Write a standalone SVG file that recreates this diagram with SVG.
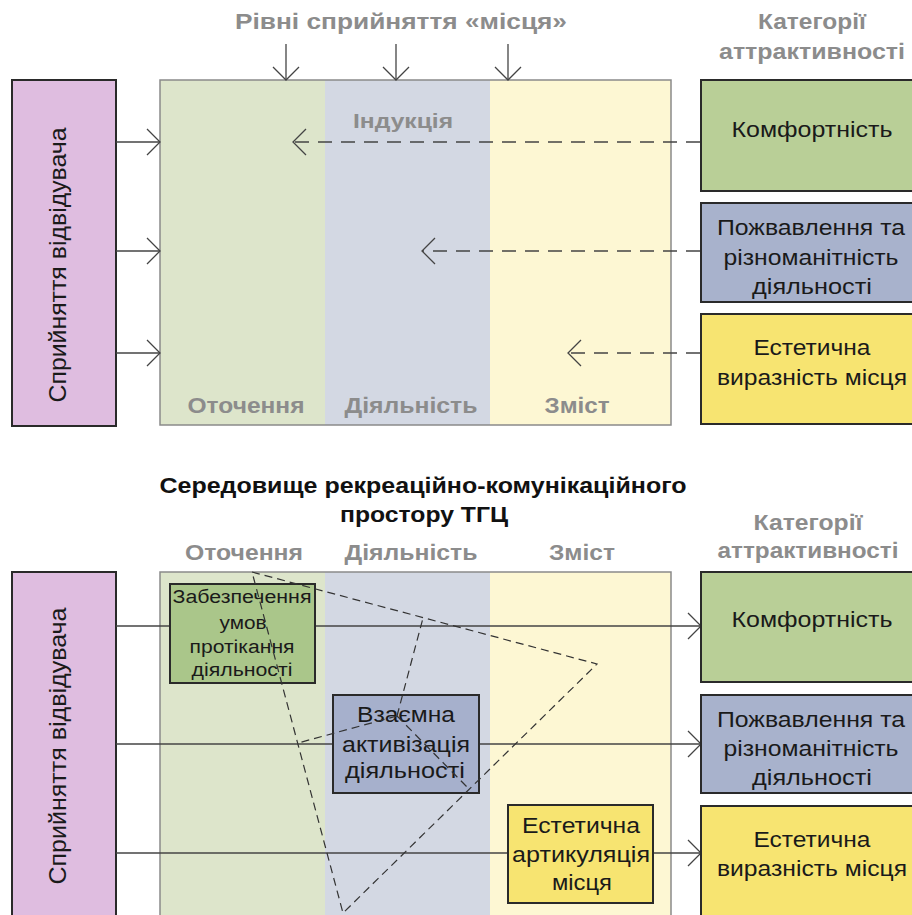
<svg xmlns="http://www.w3.org/2000/svg" width="912" height="915" viewBox="0 0 912 915">
<style>
text{font-family:"Liberation Sans",Arial,sans-serif;text-anchor:middle}
.hdr{font-weight:bold;fill:#8c8c8c;font-size:22px}
.ttl{font-weight:bold;fill:#111;font-size:22px}
.lbl{fill:#1a1a1a;font-size:22px}
.sm{font-size:18px}
.md{font-size:22px}
.box{stroke:#2a2a2a;stroke-width:2}
.frame{fill:none;stroke:#8a8a8a;stroke-width:1.5}
.conn{stroke:#444;stroke-width:1.3;fill:none}
.dash{stroke-dasharray:14 9}
.tri{stroke:#333;stroke-width:1.2;stroke-dasharray:8 5;fill:none}
</style>
<defs>
<marker id="chev" markerUnits="userSpaceOnUse" markerWidth="16" markerHeight="30" refX="14" refY="14" orient="auto" viewBox="0 0 16 30">
<path d="M1,1 L14,14 L1,27" fill="none" stroke="#444" stroke-width="1.3" stroke-dasharray="none"/>
</marker>
</defs>
<rect width="912" height="915" fill="#fff"/>

<!-- top section -->
<g id="top-frame">
<rect x="160" y="80" width="165" height="345" fill="#dde5cb"/>
<rect x="325" y="80" width="165" height="345" fill="#d3d8e3"/>
<rect x="490" y="80" width="181" height="345" fill="#fdf7d3"/>
<rect class="frame" x="160" y="80" width="511" height="345"/>
<text class="hdr" x="403" y="128" style="font-size:20px" textLength="100" lengthAdjust="spacingAndGlyphs">Індукція</text>
<text class="hdr" x="246" y="413" textLength="117" lengthAdjust="spacingAndGlyphs">Оточення</text>
<text class="hdr" x="411" y="413" textLength="133" lengthAdjust="spacingAndGlyphs">Діяльність</text>
<text class="hdr" x="577" y="413" textLength="65" lengthAdjust="spacingAndGlyphs">Зміст</text>
</g>
<g id="top-headers">
<text class="hdr" x="401" y="29" textLength="332" lengthAdjust="spacingAndGlyphs">Рівні сприйняття «місця»</text>
<text class="hdr" x="812" y="29" textLength="108" lengthAdjust="spacingAndGlyphs">Категорії</text>
<text class="hdr" x="812" y="59" textLength="186" lengthAdjust="spacingAndGlyphs">аттрактивності</text>
</g>
<g id="top-visitor">
<rect class="box" x="12" y="80" width="104" height="346" fill="#dfbde0"/>
<text class="lbl" style="font-size:23px" transform="translate(66,265) rotate(-90)" textLength="275" lengthAdjust="spacingAndGlyphs">Сприйняття відвідувача</text>
</g>
<g id="top-comfort">
<rect class="box" x="701" y="80" width="215" height="111" fill="#b9cf97"/>
<text class="lbl" x="812" y="137" textLength="161" lengthAdjust="spacingAndGlyphs">Комфортність</text>
</g>
<g id="top-activity">
<rect class="box" x="701" y="203" width="215" height="99" fill="#a8b2cc"/>
<text class="lbl" x="811" y="235" textLength="188" lengthAdjust="spacingAndGlyphs">Пожвавлення та</text>
<text class="lbl" x="811" y="265" textLength="175" lengthAdjust="spacingAndGlyphs">різноманітність</text>
<text class="lbl" x="812" y="294" textLength="120" lengthAdjust="spacingAndGlyphs">діяльності</text>
</g>
<g id="top-aesthetic">
<rect class="box" x="701" y="314" width="215" height="110" fill="#f7e471"/>
<text class="lbl" x="812" y="355" textLength="117" lengthAdjust="spacingAndGlyphs">Естетична</text>
<text class="lbl" x="812" y="385" textLength="190" lengthAdjust="spacingAndGlyphs">виразність місця</text>
</g>
<g id="top-connectors">
<line class="conn" x1="286" y1="44" x2="286" y2="80" marker-end="url(#chev)"/>
<line class="conn" x1="396" y1="44" x2="396" y2="80" marker-end="url(#chev)"/>
<line class="conn" x1="508" y1="44" x2="508" y2="80" marker-end="url(#chev)"/>
<line class="conn" x1="116" y1="142" x2="160" y2="142" marker-end="url(#chev)"/>
<line class="conn" x1="116" y1="251" x2="160" y2="251" marker-end="url(#chev)"/>
<line class="conn" x1="116" y1="353" x2="160" y2="353" marker-end="url(#chev)"/>
<line class="conn dash" x1="700" y1="142" x2="293" y2="142" marker-end="url(#chev)"/>
<line class="conn dash" x1="700" y1="251" x2="422" y2="251" marker-end="url(#chev)"/>
<line class="conn dash" x1="700" y1="353" x2="568" y2="353" marker-end="url(#chev)"/>
</g>

<!-- bottom section -->
<g id="bottom-headers">
<text class="ttl" x="423" y="493" textLength="527" lengthAdjust="spacingAndGlyphs">Середовище рекреаційно-комунікаційного</text>
<text class="ttl" x="424" y="522" textLength="168" lengthAdjust="spacingAndGlyphs">простору ТГЦ</text>
<text class="hdr" x="244" y="560" textLength="118" lengthAdjust="spacingAndGlyphs">Оточення</text>
<text class="hdr" x="411" y="560" textLength="133" lengthAdjust="spacingAndGlyphs">Діяльність</text>
<text class="hdr" x="582" y="560" textLength="66" lengthAdjust="spacingAndGlyphs">Зміст</text>
<text class="hdr" x="808" y="530" textLength="109" lengthAdjust="spacingAndGlyphs">Категорії</text>
<text class="hdr" x="808" y="558" textLength="181" lengthAdjust="spacingAndGlyphs">аттрактивності</text>
</g>
<g id="bottom-frame">
<rect x="160" y="572" width="165" height="350" fill="#dde5cb"/>
<rect x="325" y="572" width="165" height="350" fill="#d3d8e3"/>
<rect x="490" y="572" width="181" height="350" fill="#fdf7d3"/>
<rect class="frame" x="160" y="572" width="511" height="350"/>
</g>
<g id="bottom-visitor">
<rect class="box" x="12" y="572" width="104" height="350" fill="#dfbde0"/>
<text class="lbl" style="font-size:23px" transform="translate(66,746) rotate(-90)" textLength="277" lengthAdjust="spacingAndGlyphs">Сприйняття відвідувача</text>
</g>
<g id="bottom-connectors">
<line class="conn" x1="116" y1="626" x2="701" y2="626" marker-end="url(#chev)"/>
<line class="conn" x1="116" y1="744" x2="701" y2="744" marker-end="url(#chev)"/>
<line class="conn" x1="116" y1="853" x2="701" y2="853" marker-end="url(#chev)"/>
</g>
<g id="bottom-conditions">
<rect class="box" x="170" y="584" width="145" height="99" fill="#aac68a"/>
<text class="lbl sm" x="242" y="603" textLength="139" lengthAdjust="spacingAndGlyphs">Забезпечення</text>
<text class="lbl sm" x="243" y="629" textLength="47" lengthAdjust="spacingAndGlyphs">умов</text>
<text class="lbl sm" x="242" y="653" textLength="105" lengthAdjust="spacingAndGlyphs">протікання</text>
<text class="lbl sm" x="242" y="676" textLength="101" lengthAdjust="spacingAndGlyphs">діяльності</text>
</g>
<g id="bottom-mutual">
<rect class="box" x="333" y="695" width="146" height="98" fill="#a6b0cc"/>
<text class="lbl md" x="406" y="722" textLength="98" lengthAdjust="spacingAndGlyphs">Взаємна</text>
<text class="lbl md" x="406" y="752" textLength="128" lengthAdjust="spacingAndGlyphs">активізація</text>
<text class="lbl md" x="405" y="778" textLength="120" lengthAdjust="spacingAndGlyphs">діяльності</text>
</g>
<g id="bottom-articulation">
<rect class="box" x="508" y="805" width="145" height="98" fill="#f7e471"/>
<text class="lbl md" x="581" y="833" textLength="118" lengthAdjust="spacingAndGlyphs">Естетична</text>
<text class="lbl md" x="581" y="862" textLength="138" lengthAdjust="spacingAndGlyphs">артикуляція</text>
<text class="lbl md" x="582" y="890" textLength="60" lengthAdjust="spacingAndGlyphs">місця</text>
</g>
<g id="bottom-comfort">
<rect class="box" x="701" y="572" width="215" height="110" fill="#b9cf97"/>
<text class="lbl" x="812" y="627" textLength="161" lengthAdjust="spacingAndGlyphs">Комфортність</text>
</g>
<g id="bottom-activity">
<rect class="box" x="701" y="695" width="215" height="98" fill="#a8b2cc"/>
<text class="lbl" x="811" y="727" textLength="188" lengthAdjust="spacingAndGlyphs">Пожвавлення та</text>
<text class="lbl" x="811" y="756" textLength="175" lengthAdjust="spacingAndGlyphs">різноманітність</text>
<text class="lbl" x="812" y="785" textLength="120" lengthAdjust="spacingAndGlyphs">діяльності</text>
</g>
<g id="bottom-aesthetic">
<rect class="box" x="701" y="806" width="215" height="120" fill="#f7e471"/>
<text class="lbl" x="812" y="847" textLength="117" lengthAdjust="spacingAndGlyphs">Естетична</text>
<text class="lbl" x="812" y="876" textLength="190" lengthAdjust="spacingAndGlyphs">виразність місця</text>
</g>
<g id="triangle">
<polygon class="tri" points="252,572 597,664 343,913"/>
<line class="tri" x1="397" y1="716" x2="423" y2="618"/>
<line class="tri" x1="397" y1="716" x2="298" y2="743"/>
<line class="tri" x1="397" y1="716" x2="470" y2="790"/>
</g>
</svg>
